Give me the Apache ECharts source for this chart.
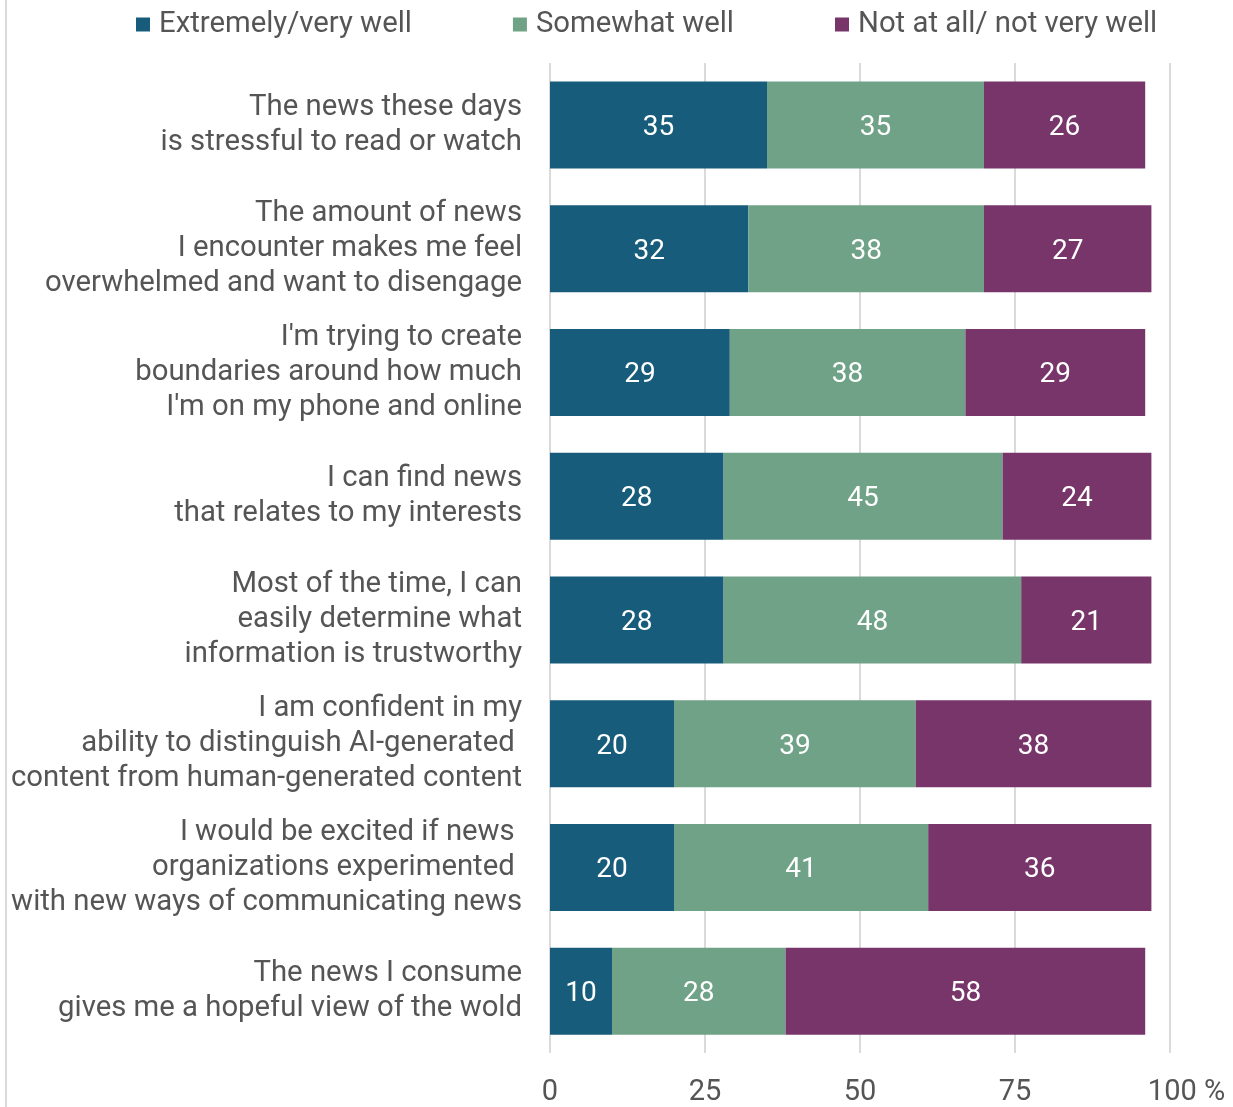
<!DOCTYPE html>
<html>
<head>
<meta charset="utf-8">
<script src="https://cdn.jsdelivr.net/npm/echarts@6/dist/echarts.min.js"></script>
<style>
  html, body { margin: 0; padding: 0; background: #ffffff; overflow: hidden; }
  #chart { width: 1233px; height: 1107px; }
</style>
</head>
<body>
<div id="chart"></div>
<script>
// Survey statements (top to bottom)
const categories = [
  'The news these days\nis stressful to read or watch',
  'The amount of news\nI encounter makes me feel\noverwhelmed and want to disengage',
  "I'm trying to create\nboundaries around how much\nI'm on my phone and online",
  'I can find news\nthat relates to my interests',
  'Most of the time, I can\neasily determine what\ninformation is trustworthy',
  'I am confident in my\nability to distinguish AI-generated \ncontent from human-generated content',
  'I would be excited if news \norganizations experimented \nwith new ways of communicating news',
  'The news I consume\ngives me a hopeful view of the wold'
];

// Share of respondents (%) per answer group
const seriesNames = ['Extremely/very well', 'Somewhat well', 'Not at all/ not very well'];
const extremelyVeryWell = [35, 32, 29, 28, 28, 20, 20, 10];
const somewhatWell      = [35, 38, 38, 45, 48, 39, 41, 28];
const notAtAllNotVery   = [26, 27, 29, 24, 21, 38, 36, 58];

const xTicks = [0, 25, 50, 75, 100];

const colors = ['#185c7b', '#6fa287', '#77356a'];
const textGray = '#555555';
const font = 'Roboto';

const chart = echarts.init(document.getElementById('chart'));

function barSeries(name, data, color) {
  return {
    name: name,
    type: 'bar',
    stack: 'total',
    data: data,
    barWidth: 87,
    itemStyle: { color: color },
    label: {
      show: true,
      position: 'inside',
      color: '#ffffff',
      fontFamily: font,
      fontSize: 28,
      offset: [0, 3]
    }
  };
}

chart.setOption({
  animation: false,
  backgroundColor: '#ffffff',
  textStyle: { fontFamily: font },
  legend: {
    left: 131,
    top: 5,
    itemWidth: 14,
    itemHeight: 14,
    itemGap: 101,
    icon: 'rect',
    textStyle: { color: textGray, fontSize: 29.3, fontFamily: font, padding: [0, 0, 0, 4] },
    data: seriesNames
  },
  grid: { left: 550, right: 63, top: 63, bottom: 40, containLabel: false },
  xAxis: {
    type: 'value',
    min: xTicks[0],
    max: xTicks[xTicks.length - 1],
    interval: 25,
    axisLine: { show: false },
    axisTick: { show: false },
    splitLine: { show: true, lineStyle: { color: '#dadada', width: 2 } },
    axisLabel: {
      margin: 25,
      color: textGray,
      fontSize: 29,
      fontFamily: font,
      formatter: function (v) {
        return v === xTicks[xTicks.length - 1] ? '{last|' + v + ' %}' : String(v);
      },
      rich: {
        last: { color: textGray, fontSize: 29, fontFamily: font, padding: [0, 0, 0, 33] }
      }
    }
  },
  yAxis: {
    type: 'category',
    inverse: true,
    data: categories,
    axisLine: { show: false },
    axisTick: { show: false },
    axisLabel: {
      margin: 28,
      color: textGray,
      fontSize: 29.3,
      lineHeight: 35,
      fontFamily: font,
      align: 'right'
    }
  },
  graphic: [{
    type: 'line',
    shape: { x1: 6, y1: 0, x2: 6, y2: 1107 },
    style: { stroke: '#dadada', lineWidth: 2 }
  }],
  series: [
    barSeries(seriesNames[0], extremelyVeryWell, colors[0]),
    barSeries(seriesNames[1], somewhatWell, colors[1]),
    barSeries(seriesNames[2], notAtAllNotVery, colors[2])
  ]
});
</script>
</body>
</html>
